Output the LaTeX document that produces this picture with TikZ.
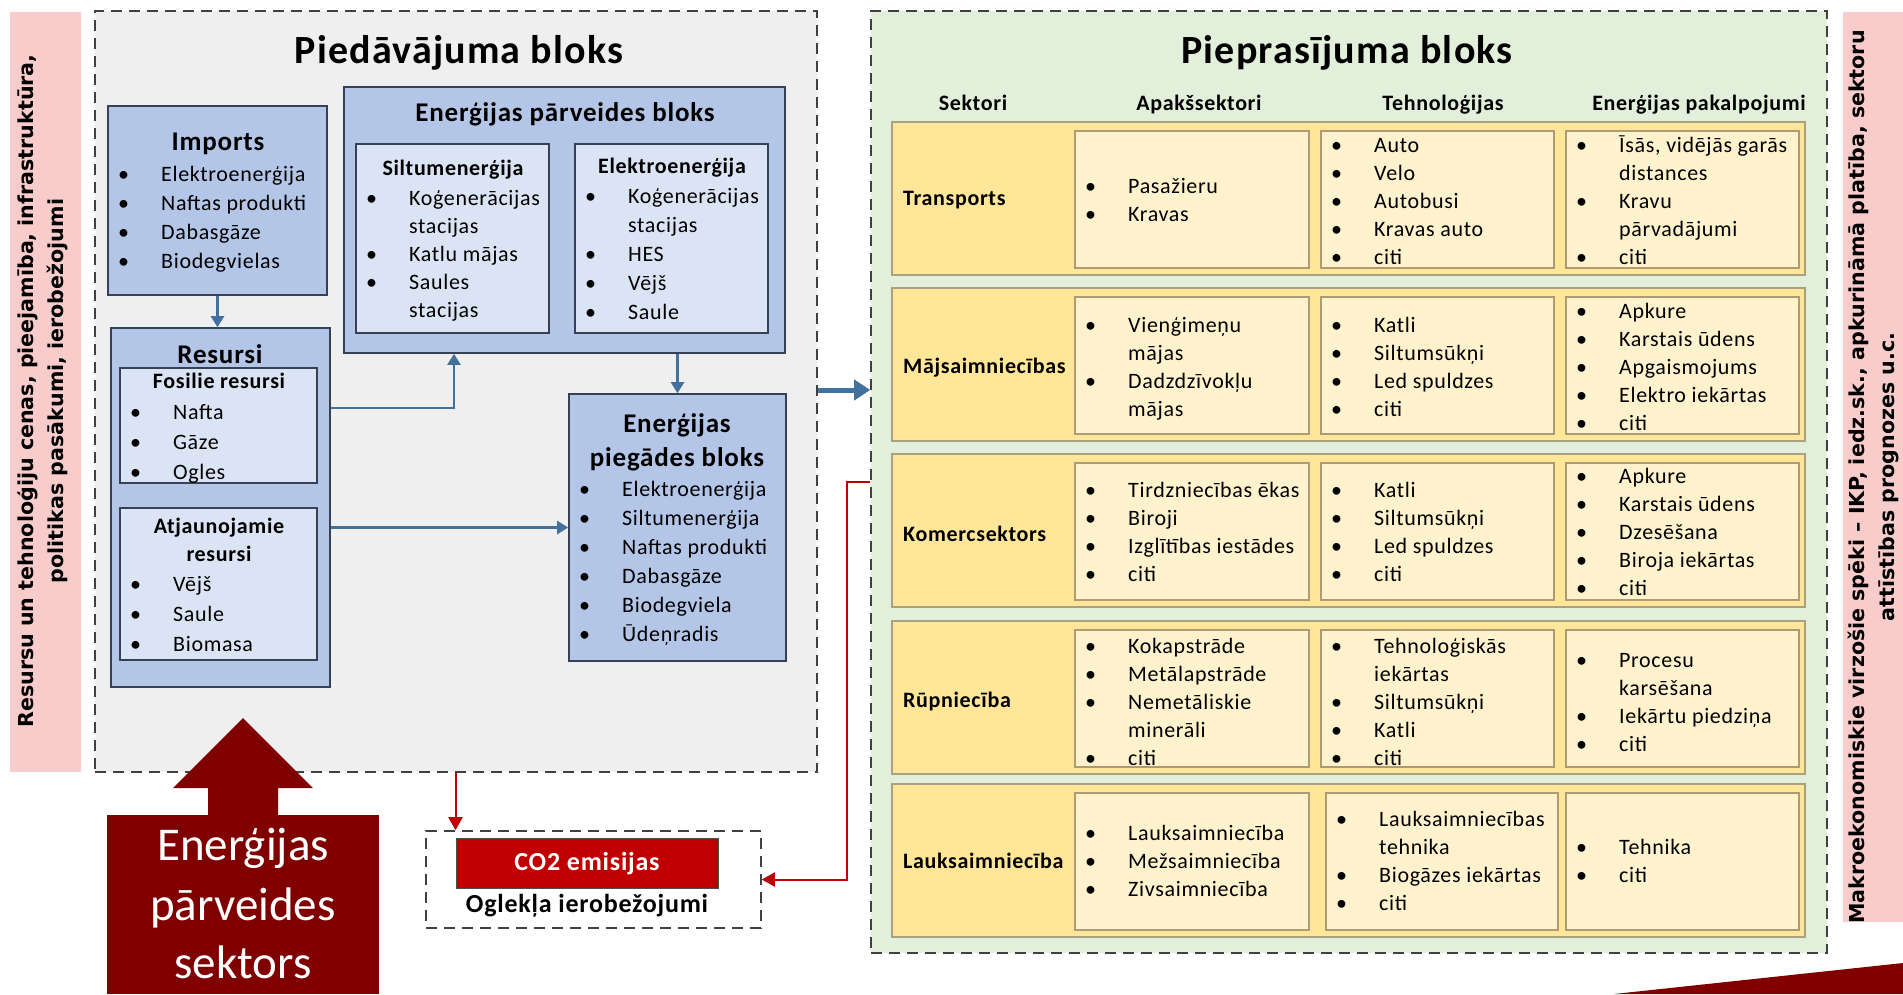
\documentclass[tikz,border=0pt]{standalone}
\usepackage{fontspec}
\setmainfont{Carlito}[LetterSpace=3]
\newfontfamily\sidefont{DejaVu Sans}
\newfontfamily\plainfont{Carlito}
\usetikzlibrary{arrows.meta,fit}
\definecolor{supfill}{RGB}{239,239,239}
\definecolor{blueA}{RGB}{180,198,231}
\definecolor{blueB}{RGB}{219,228,244}
\definecolor{bord}{RGB}{55,65,85}
\definecolor{abl}{RGB}{65,113,156}
\definecolor{demfill}{RGB}{226,239,218}
\definecolor{bandY}{RGB}{255,230,153}
\definecolor{bandB}{RGB}{170,160,130}
\definecolor{cellY}{RGB}{255,242,204}
\definecolor{cellB}{RGB}{175,155,115}
\definecolor{pinkbar}{RGB}{249,204,204}
\definecolor{dred}{RGB}{128,0,0}
\definecolor{cred}{RGB}{192,0,0}
\newcommand{\bl}{\makebox[43pt][l]{\textbullet}}
\newcommand{\cn}{\hspace*{43pt}}
\newcommand{\blist}[5]{\node[inner sep=0pt, anchor=north west, font=\fontsize{22}{#4}\selectfont] (#1) at ({#2+10},{#3-12}) {\begin{tabular}{@{}l@{}}#5\end{tabular}};}
\newcommand{\bandrow}[2]{\node[bandst, fit={(892,#2)(1805,#2+153)}] (#1) {};}
\newcommand{\cellb}[4]{\node[cellst, fit={(#2,#3+9)(#4,#3+146)}] (#1) {};}
\begin{document}
\begin{tikzpicture}[x=1pt,y=-1pt,
  dbox/.style={draw=black!75, line width=1.6pt, dash pattern=on 11pt off 7pt, inner sep=0pt},
  bbox/.style={draw=bord, line width=1.6pt, fill=blueA, inner sep=0pt},
  ibox/.style={draw=bord, line width=1.6pt, fill=blueB, inner sep=0pt},
  bandst/.style={draw=bandB, line width=1.5pt, fill=bandY, inner sep=0pt},
  cellst/.style={draw=cellB, line width=1.5pt, fill=cellY, inner sep=0pt},
  ttl/.style={anchor=base, inner sep=0pt, font=\fontsize{40}{48}\selectfont\bfseries},
  btl/.style={anchor=base, inner sep=0pt, font=\fontsize{27}{32}\selectfont\bfseries},
  stl/.style={anchor=base, inner sep=0pt, font=\fontsize{22}{28}\selectfont\bfseries},
  secn/.style={anchor=base west, inner sep=0pt, font=\fontsize{22}{28}\selectfont\bfseries},
  barr/.style={draw=abl, line width=2.4pt, -{Triangle[width=13pt,length=11pt]}},
  tarr/.style={draw=abl, line width=5pt, -{Triangle[width=20pt,length=16pt]}},
  rarr/.style={draw=cred, line width=2pt, -{Triangle[width=14pt,length=13pt]}},
  sidetxt/.style={rotate=90, align=center, inner sep=0pt, font={\sidefont\bfseries\fontsize{20.6}{30}\selectfont}},
  sectxt/.style={anchor=base, inner sep=0pt, text=white, font={\plainfont\fontsize{47}{58}\selectfont}}
]
\useasboundingbox (0,0) rectangle (1903,994);
\fill[white] (0,0) rectangle (1903,994);

% side bars
\node[fill=pinkbar, inner sep=0pt, fit={(10,12)(81,772)}] (lbar) {};
\node[sidetxt] (ltext) at (43,391) {Resursu un tehnoloģiju cenas, pieejamība, infrastruktūra,\\politikas pasākumi, ierobežojumi};
\node[fill=pinkbar, inner sep=0pt, fit={(1843,12)(1903,922)}] (rbar) {};
\node[sidetxt] (rtext) at (1873,477) {Makroekonomiskie virzošie spēki – IKP, iedz.sk., apkurināmā platība, sektoru\\attīstības prognozes u.c.};

% supply block
\node[dbox, fill=supfill, fit={(95,11)(817,772)}] (supply) {};
\node[ttl] (stitle) at (459,63) {Piedāvājuma bloks};

\node[bbox, fit={(108,106)(327,295)}] (imports) {};
\node[btl] (impt) at (218,150) {Imports};
\blist{impl}{108}{173}{29}{\bl Elektroenerģija\\ \bl Naftas produkti\\ \bl Dabasgāze\\ \bl Biodegvielas}

\node[bbox, fit={(111,328)(330,687)}] (resursi) {};
\node[btl] (rest) at (220,363) {Resursi};
\node[ibox, fit={(120,368)(317,483)}] (fos) {};
\node[stl] (fost) at (219,388) {Fosilie resursi};
\blist{fosl}{120}{410}{30}{\bl Nafta\\ \bl Gāze\\ \bl Ogles}
\node[ibox, fit={(120,508)(317,660)}] (atj) {};
\node[stl] (atjt1) at (219,533) {Atjaunojamie};
\node[stl] (atjt2) at (219,561) {resursi};
\blist{atjl}{120}{582}{30}{\bl Vējš\\ \bl Saule\\ \bl Biomasa}

\node[bbox, fit={(344,87)(785,353)}] (transform) {};
\node[btl] (trt) at (565,121) {Enerģijas pārveides bloks};
\node[ibox, fit={(356,144)(549,333)}] (silt) {};
\node[stl] (siltt) at (453,175) {Siltumenerģija};
\blist{siltl}{356}{198}{28}{\bl Koģenerācijas\\ \cn stacijas\\ \bl Katlu mājas\\ \bl Saules\\ \cn stacijas}
\node[ibox, fit={(575,144)(768,333)}] (elek) {};
\node[stl] (elekt) at (672,173) {Elektroenerģija};
\blist{elekl}{575}{195}{29}{\bl Koģenerācijas\\ \cn stacijas\\ \bl HES\\ \bl Vējš\\ \bl Saule}

\node[bbox, fit={(569,394)(786,661)}] (piegades) {};
\node[btl] (pgt1) at (677,432) {Enerģijas};
\node[btl] (pgt2) at (677,466) {piegādes bloks};
\blist{pgl}{569}{488}{29}{\bl Elektroenerģija\\ \bl Siltumenerģija\\ \bl Naftas produkti\\ \bl Dabasgāze\\ \bl Biodegviela\\ \bl Ūdeņradis}

% demand block
\node[dbox, fill=demfill, fit={(871,11)(1827,953)}] (demand) {};
\node[ttl] (dtitle) at (1347,63) {Pieprasījuma bloks};
\node[stl] (h1) at (973,110) {Sektori};
\node[stl] (h2) at (1199,110) {Apakšsektori};
\node[stl] (h3) at (1443,110) {Tehnoloģijas};
\node[stl] (h4) at (1699,110) {Enerģijas pakalpojumi};

\bandrow{b1}{122}
\bandrow{b2}{288}
\bandrow{b3}{454}
\bandrow{b4}{621}
\bandrow{b5}{784}
\cellb{c12}{1075}{122}{1309} \cellb{c13}{1321}{122}{1554} \cellb{c14}{1566}{122}{1799}
\cellb{c22}{1075}{288}{1309} \cellb{c23}{1321}{288}{1554} \cellb{c24}{1566}{288}{1799}
\cellb{c32}{1075}{454}{1309} \cellb{c33}{1321}{454}{1554} \cellb{c34}{1566}{454}{1799}
\cellb{c42}{1075}{621}{1309} \cellb{c43}{1321}{621}{1554} \cellb{c44}{1566}{621}{1799}
\cellb{c52}{1075}{784}{1309} \cellb{c53}{1326}{784}{1558} \cellb{c54}{1566}{784}{1799}

\node[secn] (s1) at (903,205) {Transports};
\node[secn] (s2) at (903,373) {Mājsaimniecības};
\node[secn] (s3) at (903,541) {Komercsektors};
\node[secn] (s4) at (903,707) {Rūpniecība};
\node[secn] (s5) at (903,868) {Lauksaimniecība};

\blist{l12}{1075}{186}{28}{\bl Pasažieru\\ \bl Kravas}
\blist{l13}{1321}{145}{28}{\bl Auto\\ \bl Velo\\ \bl Autobusi\\ \bl Kravas auto\\ \bl citi}
\blist{l14}{1566}{145}{28}{\bl Īsās, vidējās garās\\ \cn distances\\ \bl Kravu\\ \cn pārvadājumi\\ \bl citi}
\blist{l22}{1075}{325}{28}{\bl Vienģimeņu\\ \cn mājas\\ \bl Dadzdzīvokļu\\ \cn mājas}
\blist{l23}{1321}{325}{28}{\bl Katli\\ \bl Siltumsūkņi\\ \bl Led spuldzes\\ \bl citi}
\blist{l24}{1566}{311}{28}{\bl Apkure\\ \bl Karstais ūdens\\ \bl Apgaismojums\\ \bl Elektro iekārtas\\ \bl citi}
\blist{l32}{1075}{490}{28}{\bl Tirdzniecības ēkas\\ \bl Biroji\\ \bl Izglītības iestādes\\ \bl citi}
\blist{l33}{1321}{490}{28}{\bl Katli\\ \bl Siltumsūkņi\\ \bl Led spuldzes\\ \bl citi}
\blist{l34}{1566}{476}{28}{\bl Apkure\\ \bl Karstais ūdens\\ \bl Dzesēšana\\ \bl Biroja iekārtas\\ \bl citi}
\blist{l42}{1075}{646}{28}{\bl Kokapstrāde\\ \bl Metālapstrāde\\ \bl Nemetāliskie\\ \cn minerāli\\ \bl citi}
\blist{l43}{1321}{646}{28}{\bl Tehnoloģiskās\\ \cn iekārtas\\ \bl Siltumsūkņi\\ \bl Katli\\ \bl citi}
\blist{l44}{1566}{660}{28}{\bl Procesu\\ \cn karsēšana\\ \bl Iekārtu piedziņa\\ \bl citi}
\blist{l52}{1075}{833}{28}{\bl Lauksaimniecība\\ \bl Mežsaimniecība\\ \bl Zivsaimniecība}
\blist{l53}{1326}{819}{28}{\bl Lauksaimniecības\\ \cn tehnika\\ \bl Biogāzes iekārtas\\ \bl citi}
\blist{l54}{1566}{847}{28}{\bl Tehnika\\ \bl citi}

% CO2
\node[dbox, fit={(426,831)(761,928)}] (co2box) {};
\node[fill=cred, draw=black!70, line width=1pt, inner sep=0pt, fit={(456,838)(718,888)}] (co2red) {};
\node[anchor=base, inner sep=0pt, text=white, font=\fontsize{26}{30}\selectfont\bfseries] (co2t) at (587,870) {CO2 emisijas};
\node[anchor=base, inner sep=0pt, font=\fontsize{26}{30}\selectfont\bfseries] (oglt) at (587,912) {Oglekļa ierobežojumi};

% energy transformation sector block arrow
\fill[dred] (243,718) -- (313,788) -- (278,788) -- (278,816) -- (208,816) -- (208,788) -- (173,788) -- cycle;
\node[fill=dred, inner sep=0pt, fit={(107,815)(379,994)}] (sector) {};
\node[sectxt] (sec1) at (243,860) {Enerģijas};
\node[sectxt] (sec2) at (243,920) {pārveides};
\node[sectxt] (sec3) at (243,978) {sektors};

% bottom-right wedge
\fill[dred] (1614,994) -- (1903,963) -- (1903,994) -- cycle;

% connectors
\coordinate (k1) at (454,408);
\coordinate (k2) at (0,390);
\coordinate (k3) at (847,482);
\draw[barr] (imports.south) -- (imports.south |- resursi.north);
\draw[barr] (resursi.east |- k1) -- (k1) -- (k1 |- transform.south);
\draw[barr] (piegades.north |- transform.south) -- (piegades.north);
\draw[barr] (resursi.east |- piegades.west) -- (piegades.west);
\draw[tarr] (supply.east |- k2) -- (demand.west |- k2);
\draw[rarr] (supply.south -| co2red.west) -- (co2box.north -| co2red.west);
\draw[rarr] (demand.west |- k3) -- (k3) |- (co2box.east);
\end{tikzpicture}
\end{document}
